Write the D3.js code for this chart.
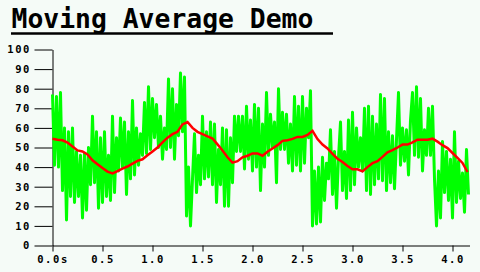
<!DOCTYPE html>
<html>
<head>
<meta charset="utf-8">
<script src="https://cdn.jsdelivr.net/npm/d3@7"></script>
<style>
  html, body { margin: 0; padding: 0; background: #f5fbf7; }
  svg { display: block; }
</style>
</head>
<body>
<figure id="chart" style="margin:0"></figure>
<script>
// sampled signal, one value every 0.02 s
const sampleStep = 0.02;
const rawValues = [
  77, 41, 76, 40, 78, 28, 60, 13, 58, 25,
  60, 22, 48, 25, 46, 14, 47, 18, 50, 31,
  66, 32, 58, 19, 55, 22, 58, 25, 46, 23,
  66, 27, 55, 38, 65, 40, 63, 26, 58, 34,
  74, 36, 60, 41, 57, 46, 73, 47, 81, 49,
  75, 55, 72, 50, 66, 44, 60, 49, 85, 50,
  80, 44, 72, 56, 88, 58, 86, 15, 40, 10,
  34, 57, 27, 46, 31, 66, 34, 58, 35, 63,
  31, 62, 22, 49, 31, 60, 20, 59, 20, 55,
  32, 66, 48, 66, 48, 66, 39, 71, 44, 64,
  38, 72, 40, 70, 28, 62, 40, 78, 46, 67,
  50, 63, 32, 80, 49, 68, 49, 67, 42, 62,
  38, 76, 41, 71, 38, 76, 42, 70, 55, 79,
  10, 38, 11, 40, 12, 45, 23, 42, 34, 59,
  26, 48, 19, 45, 63, 28, 48, 24, 64, 28,
  68, 31, 60, 40, 55, 38, 70, 28, 71, 26,
  66, 31, 62, 34, 77, 33, 75, 28, 58, 32,
  56, 29, 54, 78, 41, 60, 43, 59, 36, 64,
  78, 46, 81, 45, 75, 38, 59, 46, 70, 46,
  71, 34, 10, 38, 14, 53, 27, 48, 23, 44,
  14, 58, 22, 43, 24, 37, 17, 49, 26
];

// moving average, one value every 0.05 s
const avgStep = 0.05;
const avgValues = [
  54.5, 54, 53.7, 52.5, 50.5, 48.5, 48, 46.5, 43.5, 41.5,
  39.5, 37.7, 36.8, 38, 39.2, 40.3, 41.8, 43.2, 44, 46,
  48, 50, 52.6, 55, 56.8, 58, 61.8, 63, 60, 58,
  56.8, 55.7, 54.6, 51.6, 48.5, 45, 42.3, 43, 45, 45.8,
  47, 47, 45.8, 47.8, 49.5, 51.2, 53.4, 53.7, 54.4, 55.4,
  55.4, 56.4, 58.5, 54.3, 51.5, 49.5, 46.8, 44.3, 42.6, 40.6,
  38.9, 38.9, 37.8, 40, 42, 43, 45.2, 47.5, 48.7, 50,
  51.5, 51.5, 52.6, 54, 54, 54, 54.5, 53, 51.2, 49.7,
  47.2, 44.7, 42.1, 37.5
];

const xTicks = [0, 0.5, 1, 1.5, 2, 2.5, 3, 3.5, 4];
const xTickLabels = ["0.0s", "0.5", "1.0", "1.5", "2.0", "2.5", "3.0", "3.5", "4.0"];
const yTicks = [0, 10, 20, 30, 40, 50, 60, 70, 80, 90, 100];
const xMax = 4.17;

const width = 480, height = 272;
const labelFont = "'DejaVu Sans Mono', monospace";

const svg = d3.select("figure#chart")
  .append("svg")
  .attr("width", width)
  .attr("height", height)
  .style("background", "#f5fbf7");

// title + underline
svg.append("text")
  .attr("x", 11.5)
  .attr("y", 27.5)
  .attr("font-family", labelFont)
  .attr("font-weight", "bold")
  .attr("font-size", 26.4)
  .attr("fill", "#000")
  .text("Moving Average Demo");

svg.append("line")
  .attr("x1", 11).attr("x2", 333)
  .attr("y1", 33.5).attr("y2", 33.5)
  .attr("stroke", "#000")
  .attr("stroke-width", 2.5);

const x = d3.scaleLinear().domain([0, xMax]).range([52.5, 469.5]);
const y = d3.scaleLinear().domain([0, 100]).range([245.5, 49.5]);

// axes
const yAxis = svg.append("g")
  .attr("transform", `translate(${x(0)},0)`)
  .call(d3.axisLeft(y).tickValues(yTicks).tickSize(18).tickSizeOuter(0).tickPadding(3.5));

const xAxis = svg.append("g")
  .attr("transform", `translate(0,${y(0)})`)
  .call(d3.axisBottom(x).tickValues(xTicks).tickSize(6).tickSizeOuter(0).tickPadding(4.5)
    .tickFormat((d, i) => xTickLabels[i]));

[yAxis, xAxis].forEach(g => {
  g.selectAll("path, line").attr("stroke", "#000").attr("stroke-width", 1);
  g.selectAll("text")
    .attr("font-family", labelFont)
    .attr("font-weight", "bold")
    .attr("font-size", 10.5)
    .attr("letter-spacing", 1.6)
    .attr("fill", "#000");
});

// series
const line = d3.line()
  .x(d => x(d.t))
  .y(d => y(d.v));

const raw = rawValues.map((v, i) => ({t: i * sampleStep, v}));
const avg = avgValues.map((v, i) => ({t: i * avgStep, v}));

svg.append("path")
  .datum(raw)
  .attr("fill", "none")
  .attr("stroke", "#00ff00")
  .attr("stroke-width", 3)
  .attr("stroke-linejoin", "round")
  .attr("d", line);

svg.append("path")
  .datum(avg)
  .attr("fill", "none")
  .attr("stroke", "#ff0000")
  .attr("stroke-width", 2.5)
  .attr("d", line);
</script>
</body>
</html>
